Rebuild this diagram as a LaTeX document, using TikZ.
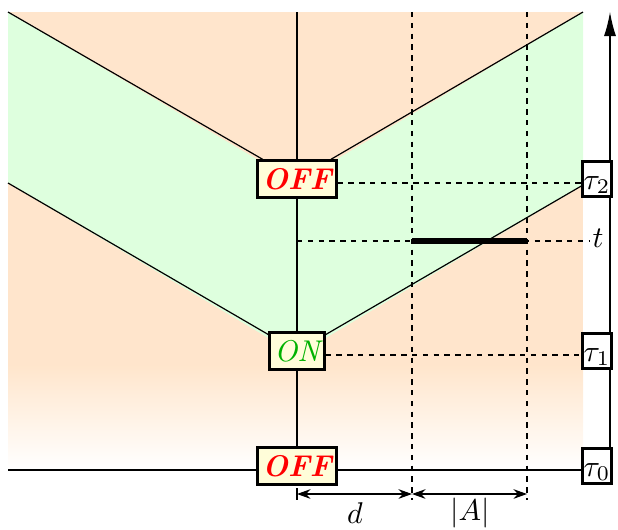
\documentclass[tikz,border=0pt]{standalone}
\usetikzlibrary{arrows.meta,backgrounds}
\begin{document}
\begin{tikzpicture}[x=0.3333pt,y=-0.3333pt,
  statebox/.style={draw=black,line width=1pt,fill=yellow!15,inner xsep=1.5pt,inner ysep=2.5pt,anchor=mid},
  taubox/.style={draw=black,line width=1pt,fill=white,inner xsep=0.4pt,inner ysep=2.5pt,text height=6.9pt,text depth=0pt,anchor=mid},
  thinline/.style={line width=0.4pt},
  dashline/.style={line width=0.4pt,dash pattern=on 1.8pt off 1.8pt},
  dimline/.style={line width=0.4pt,{Stealth[length=4.5pt,width=3.2pt]}-{Stealth[length=4.5pt,width=3.2pt]}},
  axisline/.style={line width=0.4pt,-{Latex[length=8pt,width=4pt]}},
  offtext/.style={text=red,font=\bfseries\itshape},
  ontext/.style={text=green!70!black,font=\itshape}
]
\useasboundingbox (0,0) rectangle (618,529);
% coordinates
\coordinate (tl) at (8,12);
\coordinate (tr) at (583,12);
\coordinate (ml) at (8,183);
\coordinate (mr) at (583,185);
\coordinate (ctop) at (297,12);
\coordinate (dtop) at (412,12);
\coordinate (dbot) at (412,500);
\coordinate (atop) at (527,12);
\coordinate (abot) at (527,500);
\coordinate (h0l) at (8,470);
\coordinate (tstart) at (297,241);
\coordinate (bar1) at (412,241);
\coordinate (bar2) at (527,241);
\coordinate (axtop) at (610,12);
\coordinate (dl) at (297,494);
\coordinate (dm) at (412,494);
\coordinate (dr) at (527,494);
\coordinate (ext1) at (297,488);
\coordinate (ext2) at (297,500);
% nodes
\node[statebox,offtext] (off2) at (297,183) {OFF};
\node[statebox,ontext] (on) at (297,355) {ON};
\node[statebox,offtext] (off0) at (297,470) {OFF};
\node[taubox] (tau2) at (597,183) {$\tau_2$};
\node[taubox] (tau1) at (597,355) {$\tau_1$};
\node[taubox] (tau0) at (597,470) {$\tau_0$};
\node[anchor=mid,inner sep=1pt] (tlab) at (598,241) {$t$};
\node (dlab) at (355,513) {$d$};
\node (alab) at (470,513) {$|A|$};
\begin{scope}[on background layer]
  \fill[orange!20] (8,12) rectangle (583,366);
  \shade[top color=orange!20,bottom color=white] (8,365) rectangle (583,470);
  \fill[green!13] (8,12) -- (297,183) -- (583,12) -- (583,185) -- (297,355) -- (8,183) -- cycle;
  \draw[thinline] (tl) -- (off2);
  \draw[thinline] (off2) -- (tr);
  \draw[thinline] (ml) -- (on);
  \draw[thinline] (on) -- (mr);
  \draw[thinline] (ctop) -- (off0.north);
  \draw[thinline] (h0l) -- (h0l -| tau0.west);
  \draw[dashline] (dtop) -- (dbot);
  \draw[dashline] (atop) -- (abot);
  \draw[dashline] (off2.mid east) -- (tau2.mid west);
  \draw[dashline] (on.mid east) -- (tau1.mid west);
  \draw[dashline] (tstart) -- (tlab.mid west);
  \draw[line width=2pt] (bar1) -- (bar2);
  \draw[axisline] (tau0.north -| axtop) -- (axtop);
\end{scope}
\draw[thinline] (ext1) -- (ext2);
\draw[dimline] (dl) -- (dm);
\draw[dimline] (dm) -- (dr);
\end{tikzpicture}
\end{document}
